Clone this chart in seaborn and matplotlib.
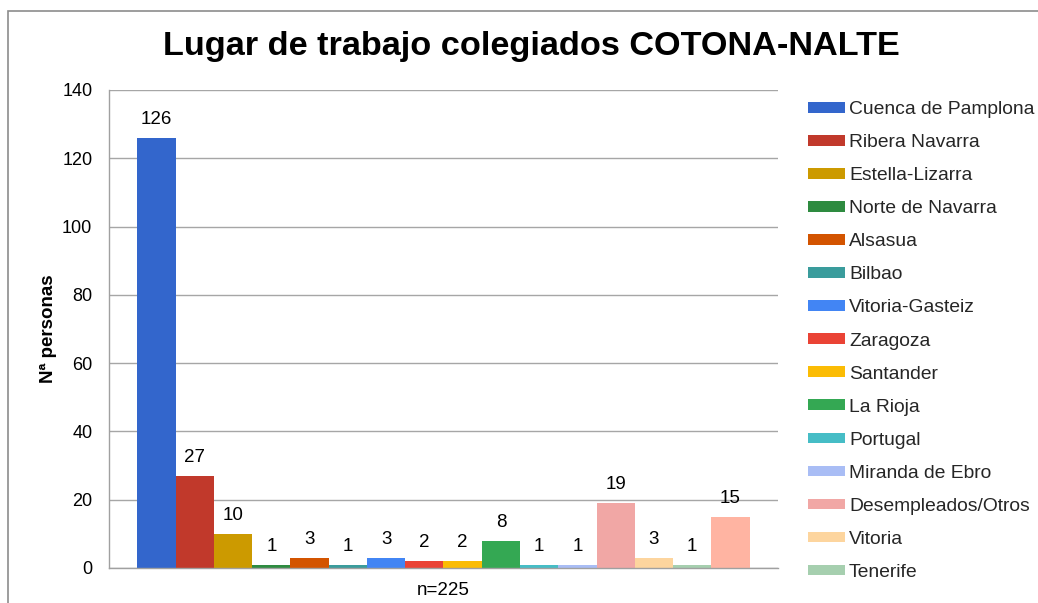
import matplotlib
matplotlib.use("Agg")
import matplotlib.pyplot as plt
from matplotlib.patches import Rectangle
import seaborn as sns
import pandas as pd

# ---- data ----
regiones = ["Cuenca de Pamplona", "Ribera Navarra", "Estella-Lizarra", "Norte de Navarra",
            "Alsasua", "Bilbao", "Vitoria-Gasteiz", "Zaragoza", "Santander", "La Rioja",
            "Portugal", "Miranda de Ebro", "Desempleados/Otros", "Vitoria", "Tenerife",
            "(sin etiqueta)"]
personas = [126, 27, 10, 1, 3, 1, 3, 2, 2, 8, 1, 1, 19, 3, 1, 15]
colores = ["#3366CC", "#C1392B", "#CC9A00", "#2E8B40", "#D35400", "#3A9C9C", "#4285F4",
           "#EA4335", "#FBBC04", "#34A853", "#46BDC6", "#A9BDF5", "#F1A7A5", "#FDD59E",
           "#A6CFAF", "#FFB4A2"]
grupo = "n=225"
titulo = "Lugar de trabajo colegiados COTONA-NALTE"
etiqueta_y = "Nª personas"
yticks = [0, 20, 40, 60, 80, 100, 120, 140]
n_legend = 15

df = pd.DataFrame({"grupo": [grupo] * len(regiones), "region": regiones, "personas": personas})

sns.set_theme(style="white")
plt.rcParams["font.family"] = ["Liberation Sans", "DejaVu Sans"]

W, H = 1038, 603
fig = plt.figure(figsize=(W / 100, H / 100), dpi=100)
ax = fig.add_axes([109 / W, 1 - 568 / H, (778 - 109) / W, (568 - 90) / H])

sns.barplot(data=df, x="grupo", y="personas", hue="region", hue_order=regiones,
            palette=colores, saturation=1, width=0.915, dodge=True, errorbar=None,
            ax=ax, linewidth=0)

for c in ax.containers:
    ax.bar_label(c, fontsize=13.5, padding=7, color="black")

ax.set_ylim(0, 140)
ax.set_yticks(yticks)
ax.set_xlim(-0.5, 0.5)
ax.yaxis.grid(True, color="#A6A6A6", linewidth=1)
ax.set_axisbelow(True)
for s in ["top", "right"]:
    ax.spines[s].set_visible(False)
for s in ["left", "bottom"]:
    ax.spines[s].set_color("#A0A0A0")
    ax.spines[s].set_linewidth(1)
ax.tick_params(axis="y", length=0, pad=12, labelsize=13, labelcolor="black")
ax.tick_params(axis="x", length=0, pad=10, labelsize=13.5, labelcolor="black")
ax.set_xlabel("")
ax.set_ylabel(etiqueta_y, fontsize=13.5, fontweight="bold", color="black")
ax.yaxis.set_label_coords(-0.078, 0.5)

handles, labels = ax.get_legend_handles_labels()
ax.legend(handles[:n_legend], labels[:n_legend], loc="center left",
          bbox_to_anchor=(808 / W, 1 - 341 / H), bbox_transform=fig.transFigure,
          frameon=False, fontsize=13.9, borderpad=0, borderaxespad=0,
          handlelength=1.9, handleheight=0.45, handletextpad=0.22, labelspacing=0.83)

fig.text(531 / W, 1 - 46 / H, titulo, ha="center", va="center",
         fontsize=24.7, fontweight="bold", color="black")

fig.patches.append(Rectangle((8 / W, -0.1), 1.2, 1.1 - 11 / H, transform=fig.transFigure,
                             fill=False, edgecolor="#8C8C8C", linewidth=1.2, figure=fig))

fig.savefig("out.png", dpi=100)
